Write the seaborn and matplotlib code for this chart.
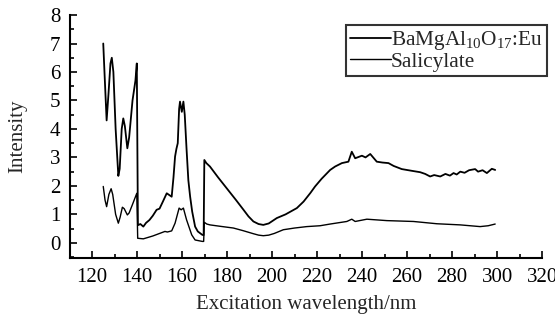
import pandas as pd
import matplotlib.pyplot as plt
import seaborn as sns
from matplotlib.ticker import MultipleLocator

# Excitation spectra
bam_x = [125, 125.6, 126.5, 127.3, 128.2, 128.8, 129.5, 130.5, 131.7, 132.3, 133.2, 133.9,
         134.6, 135.7, 136.5, 138, 139.3, 139.9, 140.4, 141.5, 142.8, 144, 145.5, 147,
         148.7, 150, 151.5, 153.2, 154.3, 155.4, 156.2, 156.9, 157.5, 158.1, 158.7, 159.1,
         159.9, 160.6, 161.2, 162, 162.8, 163.6, 164.5, 165.8, 167, 169, 169.6, 169.9,
         170.8, 172.4, 176, 180, 184, 187.3, 189.5, 191.7, 194, 196.1, 198.5, 202.1, 206,
         211, 214, 217, 219.1, 222, 225.8, 228, 231, 233.9, 235.4, 236.9, 239.9, 241.5,
         243.6, 246.5, 249, 251.7, 254, 257.6, 262, 265.8, 268, 270.2, 272, 274.7, 277,
         279, 280.6, 282, 283.6, 285.5, 287.5, 290.2, 291.5, 293.5, 295.4, 297.6, 299.1]
bam_y = [7.0, 5.9, 4.3, 5.2, 6.3, 6.5, 6.0, 4.0, 2.35, 2.6, 4.0, 4.37,
         4.1, 3.32, 3.7, 5.0, 5.7, 6.3, 0.62, 0.66, 0.57, 0.7, 0.8, 0.95,
         1.16, 1.2, 1.45, 1.74, 1.68, 1.62, 2.3, 3.03, 3.3, 3.5, 4.7, 4.96,
         4.6, 4.96, 4.5, 3.3, 2.2, 1.62, 1.1, 0.57, 0.4, 0.28, 0.27, 2.91,
         2.8, 2.68, 2.3, 1.9, 1.5, 1.16, 0.93, 0.75, 0.66, 0.63, 0.68, 0.87, 1.0,
         1.22, 1.45, 1.75, 1.98, 2.25, 2.56, 2.68, 2.8, 2.85, 3.2, 2.97, 3.06, 3.0,
         3.12, 2.85, 2.82, 2.8, 2.7, 2.59, 2.53, 2.48, 2.42, 2.33, 2.38, 2.33, 2.42,
         2.36, 2.45, 2.4, 2.5, 2.46, 2.55, 2.59, 2.5, 2.55, 2.45, 2.6, 2.56]

sal_x = [125, 125.8, 126.5, 127.5, 128.5, 129.2, 130.5, 131.7, 132.5, 133.5, 134.3, 135.7,
         136.5, 138, 139.9, 140.3, 142.8, 147, 152.4, 153.5, 155.4, 156.9, 158.7, 159.6,
         160.6, 162, 164.3, 165.8, 169, 169.6, 169.9, 171, 172.4, 177, 182.8, 187, 191.7,
         194, 196.1, 198.5, 201, 205, 210, 215.4, 221.3, 225.8, 233.2, 235.4, 236.9,
         242.1, 251, 262.8, 273.2, 283.6, 292.4, 296, 299.1]
sal_y = [1.98, 1.5, 1.27, 1.7, 1.9, 1.7, 1.0, 0.69, 0.9, 1.25, 1.2, 0.98,
         1.05, 1.35, 1.74, 0.16, 0.14, 0.24, 0.40, 0.38, 0.42, 0.69, 1.22, 1.16,
         1.22, 0.81, 0.28, 0.1, 0.05, 0.05, 0.72, 0.66, 0.63, 0.58, 0.52, 0.43, 0.32,
         0.27, 0.25, 0.27, 0.33, 0.46, 0.52, 0.57, 0.6, 0.66, 0.75, 0.83, 0.75,
         0.83, 0.78, 0.75, 0.67, 0.63, 0.57, 0.6, 0.66]

bam = pd.DataFrame({"wl": bam_x, "I": bam_y})
sal = pd.DataFrame({"wl": sal_x, "I": sal_y})

sns.set_style("ticks")
plt.rcParams["font.family"] = ["Liberation Serif", "DejaVu Serif"]
plt.rcParams["mathtext.fontset"] = "custom"
plt.rcParams["mathtext.rm"] = "Liberation Serif"
plt.rcParams["mathtext.it"] = "Liberation Serif:italic"

fig = plt.figure(figsize=(5.55, 3.2), dpi=100)
ax = fig.add_axes([0.126, 0.194, 0.851, 0.759])

sns.lineplot(data=bam, x="wl", y="I", ax=ax, color="black", linewidth=1.3,
             estimator=None, sort=False, label="BaMgAl$_{10}$O$_{17}$:Eu")
sns.lineplot(data=sal, x="wl", y="I", ax=ax, color="black", linewidth=1.0,
             estimator=None, sort=False, label="Salicylate")

ax.set_xlim(110.2, 320)
ax.set_ylim(-0.53, 8)
ax.xaxis.set_major_locator(MultipleLocator(20))
ax.xaxis.set_minor_locator(MultipleLocator(10))
ax.yaxis.set_major_locator(MultipleLocator(1))
ax.yaxis.set_minor_locator(MultipleLocator(0.5))
ax.tick_params(which="both", direction="in", width=1.2, labelsize=15, colors="black", pad=7)
ax.tick_params(which="major", length=5)
ax.tick_params(which="minor", length=3)

sns.despine(ax=ax)
for s in ["left", "bottom"]:
    ax.spines[s].set_linewidth(1.5)
    ax.spines[s].set_color("black")

ax.set_xlabel("Excitation wavelength/nm", fontsize=15, labelpad=6)
ax.set_ylabel("Intensity", fontsize=15, labelpad=16)

leg = ax.legend(loc="upper left", bbox_to_anchor=(0.585, 0.96), fontsize=15.3,
                frameon=True, fancybox=False, edgecolor="black", handlelength=1.9,
                handletextpad=0.0, labelspacing=0.0, borderpad=0.2, borderaxespad=0)
leg.get_frame().set_linewidth(1.5)

fig.savefig("out.png", dpi=100)
